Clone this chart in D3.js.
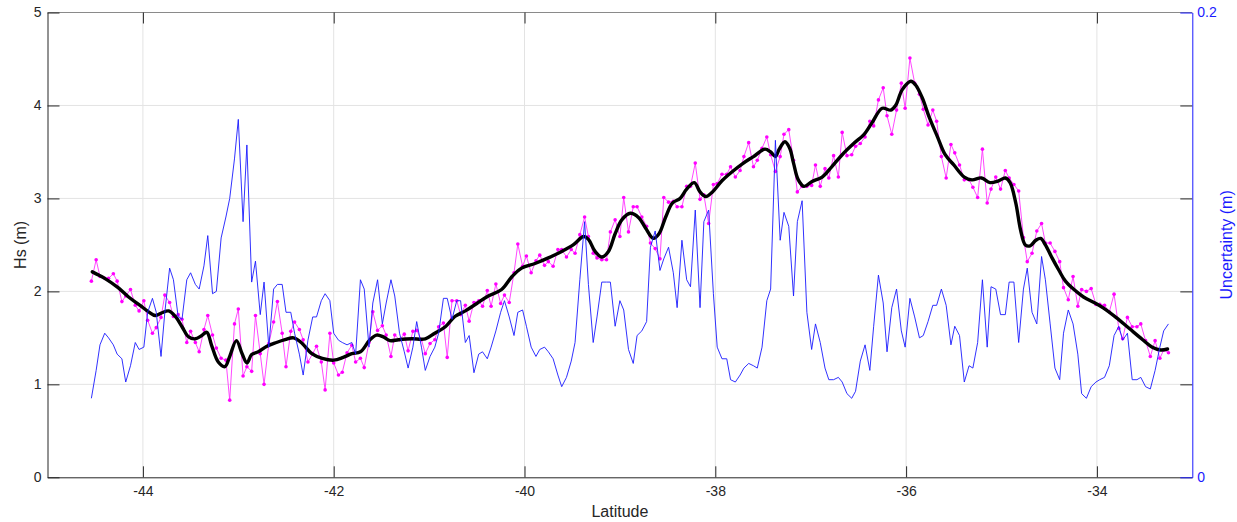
<!DOCTYPE html>
<html>
<head>
<meta charset="utf-8">
<script src="https://cdn.jsdelivr.net/npm/d3@7"></script>
<style>
  html, body { margin: 0; padding: 0; background: #fff; }
  svg { display: block; font-family: "Liberation Sans", Arial, Helvetica, sans-serif; }
</style>
</head>
<body>
<svg id="chart" width="1237" height="522"></svg>
<script>
// Along-track sample latitudes (deg)
const latitude = [
  -44.54,-44.49,-44.45,-44.40,-44.36,-44.31,-44.27,-44.22,-44.18,-44.13,
  -44.08,-44.04,-43.99,-43.95,-43.90,-43.86,-43.81,-43.77,-43.72,-43.68,
  -43.63,-43.59,-43.54,-43.50,-43.45,-43.41,-43.36,-43.32,-43.27,-43.23,
  -43.18,-43.13,-43.09,-43.04,-43.00,-42.95,-42.91,-42.86,-42.82,-42.77,
  -42.73,-42.68,-42.63,-42.59,-42.54,-42.50,-42.45,-42.41,-42.36,-42.32,
  -42.27,-42.22,-42.18,-42.13,-42.09,-42.04,-42.00,-41.95,-41.91,-41.86,
  -41.81,-41.77,-41.72,-41.68,-41.63,-41.59,-41.54,-41.49,-41.45,-41.40,
  -41.36,-41.31,-41.26,-41.22,-41.17,-41.13,-41.08,-41.04,-40.99,-40.94,
  -40.90,-40.85,-40.81,-40.76,-40.71,-40.67,-40.62,-40.58,-40.53,-40.48,
  -40.44,-40.39,-40.35,-40.30,-40.25,-40.21,-40.16,-40.11,-40.07,-40.02,
  -39.98,-39.93,-39.88,-39.84,-39.79,-39.75,-39.70,-39.65,-39.61,-39.56,
  -39.51,-39.47,-39.42,-39.37,-39.33,-39.28,-39.24,-39.19,-39.14,-39.10,
  -39.05,-39.00,-38.96,-38.91,-38.86,-38.82,-38.77,-38.72,-38.68,-38.63,
  -38.58,-38.54,-38.49,-38.44,-38.40,-38.35,-38.30,-38.26,-38.21,-38.16,
  -38.12,-38.07,-38.02,-37.98,-37.93,-37.88,-37.84,-37.79,-37.74,-37.70,
  -37.65,-37.60,-37.56,-37.51,-37.46,-37.42,-37.37,-37.32,-37.28,-37.23,
  -37.18,-37.14,-37.09,-37.04,-36.99,-36.95,-36.90,-36.85,-36.81,-36.76,
  -36.71,-36.67,-36.62,-36.57,-36.53,-36.48,-36.43,-36.38,-36.34,-36.29,
  -36.24,-36.20,-36.15,-36.10,-36.05,-36.01,-35.96,-35.91,-35.86,-35.82,
  -35.77,-35.72,-35.68,-35.63,-35.58,-35.53,-35.49,-35.44,-35.39,-35.34,
  -35.30,-35.25,-35.20,-35.15,-35.11,-35.06,-35.01,-34.96,-34.92,-34.87,
  -34.82,-34.77,-34.73,-34.68,-34.63,-34.58,-34.54,-34.49,-34.44,-34.39,
  -34.35,-34.30,-34.25,-34.20,-34.16,-34.11,-34.06,-34.01,-33.97,-33.92,
  -33.87,-33.82,-33.77,-33.73,-33.68,-33.63,-33.58,-33.54,-33.49,-33.44,
  -33.39,-33.34,-33.30,-33.25
];

// Significant wave height at each sample (m)
const hsRaw = [
  2.11,2.34,2.16,2.14,2.14,2.19,2.11,1.89,1.95,2.02,
  1.85,1.79,1.90,1.69,1.55,1.61,1.72,1.96,1.88,1.73,
  1.75,1.70,1.45,1.57,1.45,1.35,1.59,1.74,1.53,1.39,
  1.28,1.26,0.83,1.65,1.81,1.09,1.19,1.14,1.74,1.33,
  1.00,1.44,1.67,1.89,1.55,1.19,1.57,1.67,1.59,1.48,
  1.24,1.33,1.41,1.24,0.94,1.55,1.23,1.10,1.13,1.34,
  1.42,1.24,1.28,1.18,1.45,1.78,1.58,1.63,1.53,1.30,
  1.53,1.48,1.54,1.36,1.57,1.58,1.48,1.33,1.44,1.48,
  1.62,1.66,1.29,1.90,1.90,1.75,1.85,1.68,1.88,1.90,
  1.84,2.01,1.84,2.08,1.87,1.96,1.88,2.20,2.51,2.27,
  2.38,2.20,2.33,2.39,2.28,2.32,2.27,2.45,2.45,2.37,
  2.45,2.41,2.61,2.80,2.59,2.41,2.36,2.34,2.34,2.64,
  2.77,2.59,3.01,2.64,2.91,2.91,2.80,2.70,2.52,2.46,
  2.35,3.01,2.96,2.97,2.91,2.91,3.13,3.13,3.38,2.99,
  3.04,2.73,3.15,3.16,3.26,3.26,3.34,3.23,3.30,3.45,
  3.60,3.34,3.41,3.54,3.66,3.47,3.29,3.45,3.69,3.74,
  3.41,3.07,3.13,3.13,3.14,3.36,3.13,3.32,3.22,3.46,
  3.23,3.71,3.46,3.47,3.56,3.59,3.66,3.83,3.78,4.06,
  4.19,3.89,3.69,3.95,4.24,3.97,4.51,4.24,4.12,3.96,
  3.79,3.95,3.83,3.45,3.22,3.58,3.49,3.36,3.20,3.20,
  3.12,3.01,3.53,2.95,3.10,3.23,3.10,3.30,3.22,3.15,
  3.08,2.58,2.32,2.41,2.65,2.73,2.52,2.52,2.43,2.32,
  2.04,1.91,2.16,1.84,2.02,2.00,2.03,1.86,1.86,1.85,
  1.78,1.97,1.60,1.49,1.72,1.62,1.62,1.65,1.47,1.30,
  1.47,1.28,1.37,1.34
];

// Uncertainty at each sample (m), right axis
const uncertainty = [
  0.034,0.046,0.057,0.062,0.060,0.057,0.053,0.051,0.041,0.048,
  0.058,0.055,0.056,0.071,0.077,0.071,0.052,0.071,0.090,0.085,
  0.069,0.068,0.085,0.088,0.083,0.081,0.091,0.104,0.079,0.080,
  0.103,0.112,0.120,0.137,0.154,0.110,0.143,0.084,0.093,0.070,
  0.084,0.056,0.081,0.083,0.083,0.071,0.071,0.062,0.053,0.044,
  0.059,0.069,0.069,0.076,0.079,0.076,0.062,0.059,0.058,0.057,
  0.058,0.053,0.085,0.081,0.056,0.075,0.085,0.066,0.075,0.085,
  0.078,0.062,0.054,0.047,0.056,0.067,0.056,0.046,0.052,0.056,
  0.062,0.077,0.077,0.068,0.076,0.076,0.058,0.061,0.045,0.053,
  0.054,0.051,0.056,0.063,0.071,0.076,0.069,0.061,0.071,0.072,
  0.065,0.056,0.052,0.055,0.056,0.054,0.051,0.044,0.039,0.043,
  0.050,0.058,0.085,0.110,0.083,0.058,0.069,0.084,0.084,0.084,
  0.065,0.076,0.072,0.055,0.049,0.061,0.063,0.067,0.099,0.106,
  0.089,0.094,0.099,0.088,0.073,0.102,0.085,0.082,0.115,0.073,
  0.110,0.115,0.079,0.056,0.051,0.051,0.042,0.041,0.044,0.047,
  0.049,0.048,0.047,0.056,0.076,0.081,0.145,0.102,0.114,0.108,
  0.078,0.110,0.119,0.071,0.055,0.066,0.058,0.047,0.042,0.042,
  0.043,0.041,0.036,0.034,0.037,0.050,0.057,0.046,0.065,0.087,
  0.075,0.054,0.073,0.081,0.063,0.056,0.077,0.069,0.060,0.061,
  0.067,0.074,0.074,0.081,0.074,0.057,0.065,0.061,0.041,0.048,
  0.047,0.058,0.085,0.056,0.082,0.081,0.070,0.070,0.084,0.084,
  0.058,0.081,0.090,0.071,0.066,0.095,0.085,0.066,0.047,0.042,
  0.062,0.072,0.066,0.053,0.036,0.034,0.039,0.041,0.042,0.043,
  0.048,0.061,0.065,0.059,0.062,0.042,0.042,0.043,0.039,0.038,
  0.046,0.056,0.063,0.066
];

// Smoothed wave height profile
const smoothLat = [
  -44.53,-44.40,-44.26,-44.15,-44.03,-43.94,-43.87,-43.80,-43.73,-43.66,
  -43.59,-43.52,-43.45,-43.39,-43.33,-43.28,-43.21,-43.14,-43.09,-43.02,
  -42.96,-42.91,-42.86,-42.79,-42.70,-42.60,-42.51,-42.42,-42.33,-42.23,
  -42.12,-42.00,-41.90,-41.81,-41.72,-41.62,-41.55,-41.48,-41.41,-41.32,
  -41.18,-41.04,-40.94,-40.83,-40.73,-40.62,-40.50,-40.38,-40.24,-40.13,
  -40.03,-39.89,-39.75,-39.61,-39.49,-39.38,-39.33,-39.26,-39.19,-39.12,
  -39.05,-38.98,-38.89,-38.80,-38.73,-38.65,-38.59,-38.52,-38.45,-38.37,
  -38.30,-38.22,-38.16,-38.10,-38.03,-37.93,-37.82,-37.72,-37.60,-37.48,
  -37.42,-37.37,-37.33,-37.27,-37.22,-37.18,-37.13,-37.07,-36.99,-36.88,
  -36.78,-36.67,-36.55,-36.44,-36.36,-36.25,-36.16,-36.11,-36.04,-35.95,
  -35.90,-35.83,-35.76,-35.67,-35.59,-35.50,-35.39,-35.31,-35.21,-35.12,
  -35.03,-34.96,-34.91,-34.85,-34.80,-34.75,-34.70,-34.64,-34.59,-34.54,
  -34.47,-34.40,-34.33,-34.24,-34.14,-34.01,-33.93,-33.80,-33.66,-33.52,
  -33.42,-33.33,-33.26
];
const smoothHs = [
  2.21,2.14,2.04,1.94,1.85,1.78,1.74,1.77,1.79,1.73,
  1.62,1.51,1.49,1.52,1.56,1.42,1.24,1.19,1.30,1.47,
  1.33,1.23,1.32,1.35,1.41,1.45,1.48,1.50,1.44,1.33,
  1.28,1.26,1.29,1.33,1.35,1.48,1.53,1.51,1.47,1.48,
  1.49,1.49,1.55,1.62,1.73,1.79,1.87,1.95,2.02,2.16,
  2.25,2.30,2.36,2.43,2.50,2.59,2.56,2.43,2.37,2.43,
  2.62,2.77,2.84,2.79,2.68,2.57,2.62,2.80,2.95,3.00,
  3.10,3.17,3.07,3.02,3.07,3.19,3.29,3.37,3.45,3.53,
  3.50,3.45,3.53,3.61,3.54,3.38,3.20,3.13,3.18,3.23,
  3.34,3.47,3.59,3.69,3.81,3.97,3.95,4.00,4.17,4.26,
  4.22,4.08,3.88,3.66,3.47,3.36,3.23,3.20,3.22,3.17,
  3.19,3.22,3.17,2.95,2.66,2.50,2.49,2.55,2.57,2.50,
  2.36,2.23,2.11,2.02,1.94,1.87,1.82,1.72,1.60,1.48,
  1.40,1.37,1.38
];

const xTicks = [-44, -42, -40, -38, -36, -34];
const yTicks = [0, 1, 2, 3, 4, 5];
const yRightTicks = [0, 0.2];

const plot = { left: 47.5, right: 1192.3, top: 12.5, bottom: 477.3 };
const axisInk = "#262626";
const gridInk = "#e3e3e3";
const blue = "#1a1aff";

const svg = d3.select("#chart");

const x = d3.scaleLinear().domain([-45, -33]).range([plot.left, plot.right]);
const y = d3.scaleLinear().domain([0, 5]).range([plot.bottom, plot.top]);
const yR = d3.scaleLinear().domain([0, 0.2]).range([plot.bottom, plot.top]);

// grid
const grid = svg.append("g").attr("class", "grid");
grid.selectAll("line.gx").data(xTicks).join("line")
  .attr("x1", d => x(d)).attr("x2", d => x(d))
  .attr("y1", plot.top).attr("y2", plot.bottom)
  .attr("stroke", gridInk).attr("stroke-width", 1);
grid.selectAll("line.gy").data(yTicks.filter(d => d > 0 && d < 5)).join("line")
  .attr("x1", plot.left).attr("x2", plot.right)
  .attr("y1", d => y(d)).attr("y2", d => y(d))
  .attr("stroke", gridInk).attr("stroke-width", 1);

// box top edge
svg.append("line")
  .attr("x1", plot.left).attr("x2", plot.right)
  .attr("y1", plot.top).attr("y2", plot.top)
  .attr("stroke", "#8a8a8a").attr("stroke-width", 1);

// series
const samples = latitude.map((lat, i) => ({ lat, hs: hsRaw[i], u: uncertainty[i] }));
const smooth = smoothLat.map((lat, i) => ({ lat, hs: smoothHs[i] }));

const data = svg.append("g").attr("class", "series");

data.append("path")
  .datum(samples)
  .attr("fill", "none")
  .attr("stroke", "#ff33ff")
  .attr("stroke-width", 0.9)
  .attr("d", d3.line().x(d => x(d.lat)).y(d => y(d.hs)));

data.selectAll("circle").data(samples).join("circle")
  .attr("cx", d => x(d.lat)).attr("cy", d => y(d.hs))
  .attr("r", 1.8).attr("fill", "#ff00ff");

data.append("path")
  .datum(smooth)
  .attr("fill", "none")
  .attr("stroke", "#000")
  .attr("stroke-width", 3.4)
  .attr("stroke-linejoin", "round")
  .attr("stroke-linecap", "round")
  .attr("d", d3.line().curve(d3.curveCatmullRom.alpha(0.5)).x(d => x(d.lat)).y(d => y(d.hs)));

data.append("path")
  .datum(samples)
  .attr("fill", "none")
  .attr("stroke", blue)
  .attr("stroke-width", 0.9)
  .attr("stroke-linejoin", "round")
  .attr("d", d3.line().x(d => x(d.lat)).y(d => yR(d.u)));

// axes
function styleAxis(g, color) {
  g.selectAll("path.domain").attr("stroke", color).attr("stroke-width", 1);
  g.selectAll(".tick line").attr("stroke", color).attr("stroke-width", 1);
  g.selectAll(".tick text").attr("fill", color).attr("font-size", 14)
    .attr("font-family", "'Liberation Sans', Arial, Helvetica, sans-serif");
}

const gBottom = svg.append("g").attr("transform", `translate(0,${plot.bottom})`)
  .call(d3.axisBottom(x).tickValues(xTicks).tickSize(-11).tickSizeOuter(0)
    .tickPadding(9).tickFormat(d => String(d)));
styleAxis(gBottom, axisInk);

const gTop = svg.append("g").attr("transform", `translate(0,${plot.top})`)
  .call(d3.axisTop(x).tickValues(xTicks).tickSize(-11).tickSizeOuter(0).tickFormat(""));
styleAxis(gTop, axisInk);
gTop.select("path.domain").remove();

const gLeft = svg.append("g").attr("transform", `translate(${plot.left},0)`)
  .call(d3.axisLeft(y).tickValues(yTicks).tickSize(-12).tickSizeOuter(0)
    .tickPadding(6).tickFormat(d => String(d)));
styleAxis(gLeft, axisInk);

const gRightGray = svg.append("g").attr("transform", `translate(${plot.right},0)`)
  .call(d3.axisRight(y).tickValues(yTicks.filter(d => d > 0 && d < 5)).tickSize(-12)
    .tickSizeOuter(0).tickFormat(""));
styleAxis(gRightGray, axisInk);
gRightGray.select("path.domain").remove();

const gRight = svg.append("g").attr("transform", `translate(${plot.right},0)`)
  .call(d3.axisRight(yR).tickValues(yRightTicks).tickSize(-12).tickSizeOuter(0)
    .tickPadding(5).tickFormat(d => String(d)));
styleAxis(gRight, blue);

// axis titles
svg.append("text")
  .attr("x", (plot.left + plot.right) / 2).attr("y", 517)
  .attr("text-anchor", "middle").attr("font-size", 16).attr("fill", axisInk)
  .text("Latitude");

svg.append("text")
  .attr("transform", `translate(26,${(plot.top + plot.bottom) / 2}) rotate(-90)`)
  .attr("text-anchor", "middle").attr("font-size", 16).attr("fill", axisInk)
  .text("Hs (m)");

svg.append("text")
  .attr("transform", `translate(1232,${(plot.top + plot.bottom) / 2}) rotate(-90)`)
  .attr("text-anchor", "middle").attr("font-size", 16).attr("fill", blue)
  .text("Uncertainty (m)");
</script>
</body>
</html>
